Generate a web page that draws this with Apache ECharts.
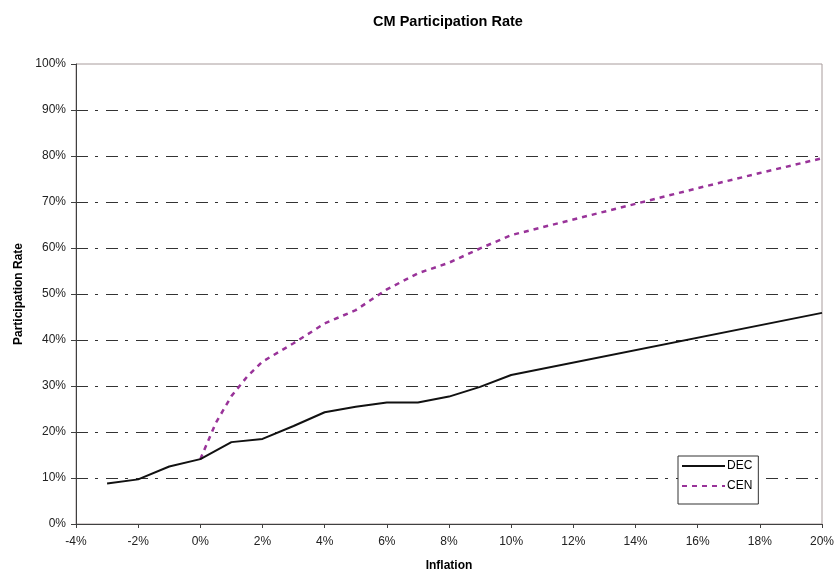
<!DOCTYPE html>
<html>
<head>
<meta charset="utf-8">
<script src="https://cdn.jsdelivr.net/npm/echarts@6/dist/echarts.min.js"></script>
<style>
  html, body { margin: 0; padding: 0; background: #fff; }
  #chart { width: 840px; height: 578px; }
</style>
</head>
<body>
<div id="chart"></div>
<script>
// Inflation (%) and participation rate (%) for each scenario
const decInflation = [-3, -2, -1, 0, 1, 2, 3, 4, 5, 6, 7, 8, 9, 10, 20];
const decRate      = [8.8, 9.7, 12.5, 14.1, 17.8, 18.5, 21.3, 24.3, 25.5, 26.4, 26.4, 27.7, 29.8, 32.4, 45.9];

const cenInflation = [0, 0.5, 1, 1.5, 2, 3, 4, 5, 6, 7, 8, 9, 10, 12, 14, 16, 18, 20];
const cenRate      = [14.1, 22.0, 27.8, 32.0, 35.3, 39.3, 43.6, 46.5, 51.0, 54.5, 56.8, 59.9, 62.8, 66.2, 69.6, 73.0, 76.3, 79.5];

const xTicks = { min: -4, max: 20, step: 2 };
const yTicks = { min: 0, max: 100, step: 10 };

const pairs = (xs, ys) => xs.map((x, i) => [x, ys[i]]);

const font = 'Liberation Sans, Arial, sans-serif';
const chart = echarts.init(document.getElementById('chart'), null, { renderer: 'canvas' });

chart.setOption({
  backgroundColor: '#ffffff',
  animation: false,
  title: {
    text: 'CM Participation Rate',
    left: 443,
    top: 9,
    textAlign: 'center',
    textStyle: { fontFamily: font, fontSize: 14.5, fontWeight: 'bold', color: '#000' }
  },
  grid: {
    left: 76, right: 18, top: 64, bottom: 54,
    show: true,
    borderColor: '#a89c9c',
    borderWidth: 1,
    backgroundColor: 'transparent'
  },
  legend: {
    orient: 'vertical',
    left: 678,
    top: 456,
    width: 81,
    padding: [4, 6, 12, 3],
    itemGap: 8,
    itemWidth: 43,
    itemHeight: 10,
    backgroundColor: '#ffffff',
    borderColor: '#333',
    borderWidth: 1,
    borderRadius: 0,
    itemStyle: { opacity: 0 },
    textStyle: { fontFamily: font, fontSize: 12, color: '#000', padding: [0, 0, 0, -3] },
    data: ['DEC', 'CEN']
  },
  xAxis: {
    type: 'value',
    min: xTicks.min, max: xTicks.max, interval: xTicks.step,
    name: 'Inflation',
    nameLocation: 'middle',
    nameGap: 36,
    nameTextStyle: { fontFamily: font, fontSize: 12, fontWeight: 'bold', color: '#000' },
    axisLine: { show: true, onZero: false, lineStyle: { color: '#404040', width: 1 } },
    axisTick: { show: true, inside: false, length: 4, lineStyle: { color: '#404040' } },
    axisLabel: { fontFamily: font, fontSize: 12, color: '#222', margin: 12, formatter: '{value}%' },
    splitLine: { show: false }
  },
  yAxis: {
    type: 'value',
    min: yTicks.min, max: yTicks.max, interval: yTicks.step,
    name: 'Participation Rate',
    nameLocation: 'middle',
    nameGap: 51,
    nameRotate: 90,
    nameTextStyle: { fontFamily: font, fontSize: 12, fontWeight: 'bold', color: '#000' },
    axisLine: { show: true, onZero: false, lineStyle: { color: '#404040', width: 1 } },
    axisTick: { show: true, inside: false, length: 5, lineStyle: { color: '#404040' } },
    axisLabel: { fontFamily: font, fontSize: 12, color: '#222', margin: 10, formatter: '{value}%' },
    splitLine: {
      show: true,
      showMinLine: false,
      showMaxLine: false,
      lineStyle: { color: '#333', width: 1, type: [12, 7, 3, 8] }
    }
  },
  series: [
    {
      name: 'DEC',
      type: 'line',
      data: pairs(decInflation, decRate),
      symbol: 'none',
      showSymbol: false,
      z: 3,
      color: '#111111',
      lineStyle: { color: '#111111', width: 2 }
    },
    {
      name: 'CEN',
      type: 'line',
      data: pairs(cenInflation, cenRate),
      symbol: 'none',
      showSymbol: false,
      z: 2,
      color: '#993399',
      lineStyle: { color: '#993399', width: 2.5, type: [5, 5] }
    }
  ]
});
</script>
</body>
</html>
